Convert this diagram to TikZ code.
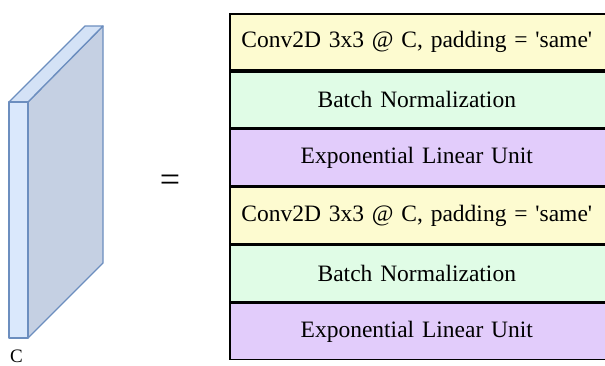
\documentclass[tikz,border=0pt]{standalone}
\usepackage{fontspec}
\setmainfont{Liberation Serif}[Ligatures=TeXOff]
\definecolor{cyel}{HTML}{FDFBD0}
\definecolor{cgrn}{HTML}{E0FCE6}
\definecolor{cpur}{HTML}{E2CCFB}
\definecolor{cstroke}{HTML}{6C8EBF}
\definecolor{cfront}{HTML}{DAE8FC}
\definecolor{cside}{HTML}{C5D0E3}
\definecolor{ctop}{HTML}{D4E2F6}
\begin{document}
\begin{tikzpicture}[x=1pt,y=-1pt,
  layer/.style={draw=black,line width=1.6pt,minimum width=380pt,minimum height=56.3pt,anchor=north west,inner sep=0pt,font=\fontsize{23.5}{26}\selectfont,text width=376pt,align=center},
  face/.style={draw=cstroke,line width=1.3pt,line join=round}]
\useasboundingbox (0,0) rectangle (605,365);
% block
\fill[cside,face] (28,102) -- (103,26) -- (103,263) -- (28,338) -- cycle;
\fill[ctop,face] (9,102) -- (85,26) -- (103,26) -- (28,102) -- cycle;
\fill[cfront,face] (9,102) rectangle (28,338);
\node[font=\fontsize{19}{21}\selectfont] (clab) at (16.5,356) {C};
\node[font=\fontsize{36}{38}\selectfont] (eq) at (170,183) {=};
% stack
\node[layer,fill=cyel] (l1) at (229,13) {\hspace*{-6pt}Conv2D 3x3 @ C, padding = 'same'};
\node[layer,fill=cgrn] (l2) at (l1.south west) {\hspace*{-6pt}Batch Normalization};
\node[layer,fill=cpur] (l3) at (l2.south west) {\hspace*{-6pt}Exponential Linear Unit};
\node[layer,fill=cyel] (l4) at (l3.south west) {\hspace*{-6pt}Conv2D 3x3 @ C, padding = 'same'};
\node[layer,fill=cgrn] (l5) at (l4.south west) {\hspace*{-6pt}Batch Normalization};
\node[layer,fill=cpur] (l6) at (l5.south west) {\hspace*{-6pt}Exponential Linear Unit};
\end{tikzpicture}
\end{document}
